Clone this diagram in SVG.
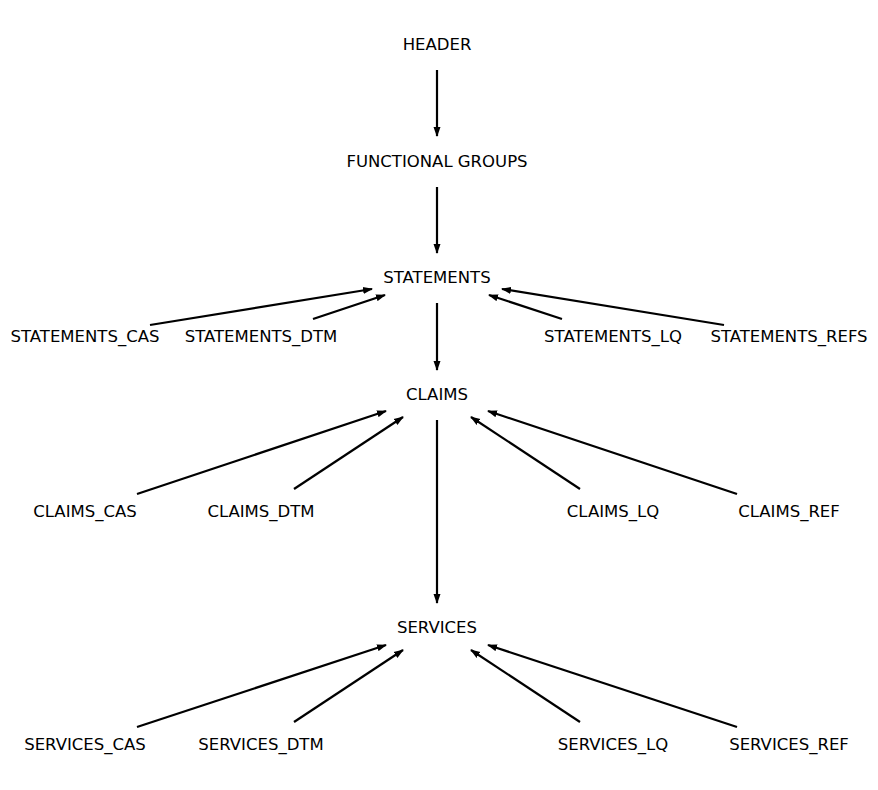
<svg xmlns="http://www.w3.org/2000/svg" width="878" height="790" viewBox="0 0 878 790">
<style>
text{font-family:"DejaVu Sans",sans-serif;font-size:16.5px;fill:#000;text-anchor:middle}
.e line{stroke:#000;stroke-width:2.2;marker-end:url(#ah)}
</style>
<defs>
<marker id="ah" markerUnits="userSpaceOnUse" markerWidth="10" markerHeight="8" refX="9" refY="4" orient="auto">
<path d="M0,0.5 L10,4 L0,7.5 z" fill="#000"/>
</marker>
</defs>
<rect width="878" height="790" fill="#fff"/>
<g class="e" id="connectors">
<line x1="437" y1="70" x2="437" y2="136"/>
<line x1="437" y1="187" x2="437" y2="253"/>
<line x1="437" y1="303" x2="437" y2="370"/>
<line x1="437" y1="420" x2="437" y2="603"/>
<line x1="150" y1="325" x2="372" y2="289"/>
<line x1="313" y1="319" x2="385" y2="295"/>
<line x1="562" y1="319" x2="489" y2="295"/>
<line x1="724" y1="325" x2="502" y2="289"/>
<line x1="137" y1="494" x2="386" y2="411"/>
<line x1="294" y1="489" x2="403" y2="417"/>
<line x1="580" y1="489" x2="471" y2="417"/>
<line x1="737" y1="494" x2="488" y2="411"/>
<line x1="137" y1="727" x2="386" y2="645"/>
<line x1="294" y1="722" x2="403" y2="650"/>
<line x1="580" y1="722" x2="471" y2="650"/>
<line x1="737" y1="727" x2="488" y2="645"/>
</g>
<g id="header"><text x="437" y="50">HEADER</text></g>
<g id="functional_groups"><text x="437" y="167">FUNCTIONAL GROUPS</text></g>
<g id="statements"><text x="437" y="283">STATEMENTS</text></g>
<g id="claims"><text x="437" y="400">CLAIMS</text></g>
<g id="services"><text x="437" y="633">SERVICES</text></g>
<g id="statements_cas"><text x="85" y="342">STATEMENTS_CAS</text></g>
<g id="statements_dtm"><text x="261" y="342">STATEMENTS_DTM</text></g>
<g id="statements_lq"><text x="613" y="342">STATEMENTS_LQ</text></g>
<g id="statements_refs"><text x="789" y="342">STATEMENTS_REFS</text></g>
<g id="claims_cas"><text x="85" y="517">CLAIMS_CAS</text></g>
<g id="claims_dtm"><text x="261" y="517">CLAIMS_DTM</text></g>
<g id="claims_lq"><text x="613" y="517">CLAIMS_LQ</text></g>
<g id="claims_ref"><text x="789" y="517">CLAIMS_REF</text></g>
<g id="services_cas"><text x="85" y="750">SERVICES_CAS</text></g>
<g id="services_dtm"><text x="261" y="750">SERVICES_DTM</text></g>
<g id="services_lq"><text x="613" y="750">SERVICES_LQ</text></g>
<g id="services_ref"><text x="789" y="750">SERVICES_REF</text></g>
</svg>
